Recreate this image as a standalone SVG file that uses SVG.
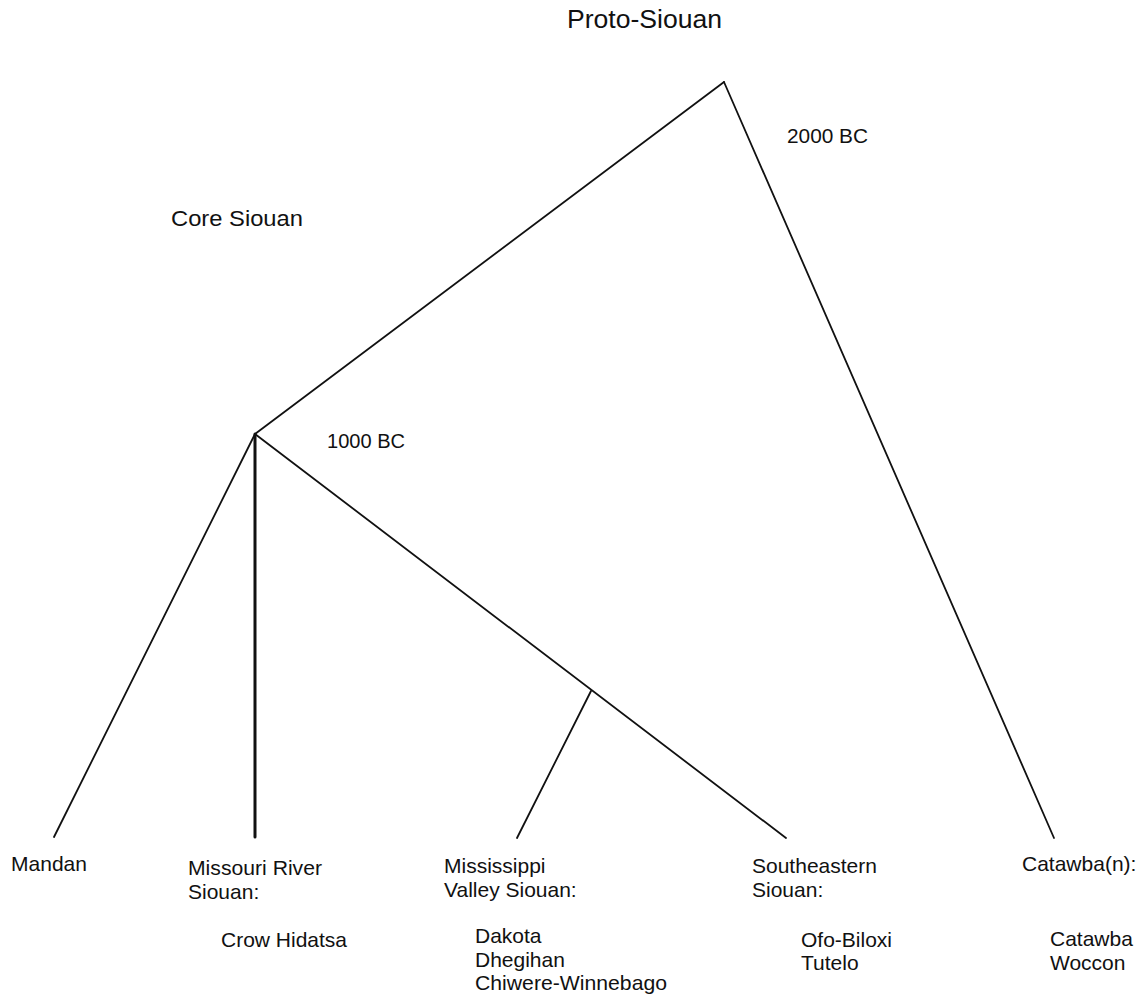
<svg xmlns="http://www.w3.org/2000/svg" width="1143" height="997" viewBox="0 0 1143 997">
<style>
text{font-family:"Liberation Sans",Arial,sans-serif;fill:#111;font-size:21px}
.e{stroke:#111;stroke-width:1.8;fill:none;stroke-linecap:round}
.thick{stroke-width:3}
</style>
<rect width="1143" height="997" fill="#fff"/>
<g id="connectors">
<line class="e" x1="724" y1="82" x2="255" y2="434"/>
<line class="e" x1="724" y1="82" x2="1054" y2="838"/>
<line class="e" x1="255" y1="434" x2="54" y2="837"/>
<line class="e thick" x1="255" y1="434" x2="255" y2="837"/>
<line class="e" x1="255" y1="434" x2="786" y2="838"/>
<line class="e" x1="591" y1="691" x2="517" y2="838"/>
</g>
<g id="proto-siouan"><text x="567" y="28" style="font-size:26px" textLength="155" lengthAdjust="spacingAndGlyphs">Proto-Siouan</text></g>
<g id="date-2000"><text x="787" y="143" textLength="81" lengthAdjust="spacingAndGlyphs">2000 BC</text></g>
<g id="core-siouan"><text x="171" y="226" style="font-size:22px" textLength="132" lengthAdjust="spacingAndGlyphs">Core Siouan</text></g>
<g id="date-1000"><text x="327" y="448" style="font-size:20px" textLength="78" lengthAdjust="spacingAndGlyphs">1000 BC</text></g>
<g id="mandan"><text x="11" y="871" textLength="76" lengthAdjust="spacingAndGlyphs">Mandan</text></g>
<g id="missouri">
<text x="188" y="875" textLength="134" lengthAdjust="spacingAndGlyphs">Missouri River</text>
<text x="188" y="899">Siouan:</text>
<text x="221" y="947">Crow Hidatsa</text>
</g>
<g id="mississippi">
<text x="444" y="873">Mississippi</text>
<text x="444" y="897">Valley Siouan:</text>
<text x="475" y="943">Dakota</text>
<text x="475" y="967">Dhegihan</text>
<text x="475" y="990" textLength="192" lengthAdjust="spacingAndGlyphs">Chiwere-Winnebago</text>
</g>
<g id="southeastern">
<text x="752" y="873">Southeastern</text>
<text x="752" y="897">Siouan:</text>
<text x="801" y="947">Ofo-Biloxi</text>
<text x="801" y="970">Tutelo</text>
</g>
<g id="catawban">
<text x="1022" y="871">Catawba(n):</text>
<text x="1050" y="946">Catawba</text>
<text x="1050" y="970">Woccon</text>
</g>
</svg>
